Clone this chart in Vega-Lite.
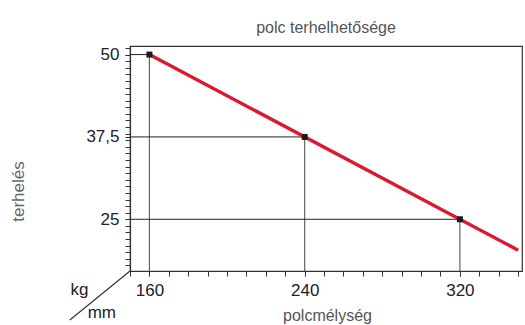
{
  "$schema": "https://vega.github.io/schema/vega-lite/v6.json",
  "width": 392,
  "height": 225,
  "autosize": {"type": "none"},
  "padding": {"left": 130, "top": 46, "right": 3, "bottom": 54},
  "background": "white",
  "config": {
    "font": "Liberation Sans",
    "view": {"stroke": "#333333", "strokeWidth": 1.2},
    "axis": {"grid": false},
    "locale": {"number": {"decimal": ",", "thousands": " ", "grouping": [3], "currency": ["", ""]}}
  },
  "title": {
    "text": "polc terhelhetősége",
    "fontSize": 16,
    "font": "Liberation Sans",
    "fontWeight": "normal",
    "color": "#555555",
    "anchor": "middle",
    "frame": "group",
    "baseline": "alphabetic",
    "offset": -3
  },
  "resolve": {"axis": {"x": "independent", "y": "independent"}},
  "datasets": {
    "points": [
      {"depth": 160, "load": 50},
      {"depth": 240, "load": 37.5},
      {"depth": 320, "load": 25}
    ],
    "line": [
      {"depth": 160, "load": 50},
      {"depth": 350, "load": 20.31}
    ]
  },
  "layer": [
    {
      "data": {"name": "points"},
      "mark": {"type": "rule", "color": "#666666", "strokeWidth": 1.2},
      "encoding": {
        "x": {"field": "depth", "type": "quantitative",
          "scale": {"domain": [150, 352], "nice": false, "zero": false},
          "axis": {
            "orient": "bottom",
            "values": [160, 240, 320],
            "format": "d",
            "labelOverlap": false,
            "labelFontSize": 17,
            "labelColor": "#222222",
            "labelPadding": 6,
            "tickSize": 5,
            "tickColor": "#333333",
            "domainColor": "#333333",
            "domainWidth": 1.2,
            "title": "polcmélység",
            "titleFontSize": 16,
            "titleFontWeight": "normal",
            "titleColor": "#555555",
            "titleX": 197,
            "titleY": 44,
            "titleBaseline": "middle",
            "titleAlign": "center"
          }
        },
        "y": {"field": "load", "type": "quantitative",
          "scale": {"domain": [17.15, 51.3], "nice": false, "zero": false},
          "axis": {
            "orient": "left",
            "values": [25, 37.5, 50],
            "format": ".1~f",
            "labelOverlap": false,
            "labelFontSize": 17,
            "labelColor": "#222222",
            "labelPadding": 6,
            "tickSize": 5,
            "tickColor": "#333333",
            "domainColor": "#333333",
            "domainWidth": 1.2,
            "title": "terhelés",
            "titleFontSize": 17,
            "titleFontWeight": "normal",
            "titleColor": "#666666",
            "titleX": -112,
            "titleY": 145,
            "titleAngle": -90,
            "titleBaseline": "middle",
            "titleAlign": "center"
          }
        },
        "y2": {"datum": 17.15}
      }
    },
    {
      "data": {"name": "points"},
      "mark": {"type": "rule", "color": "#222222", "strokeWidth": 1},
      "encoding": {
        "x": {"field": "depth", "type": "quantitative",
          "axis": {
            "orient": "bottom",
            "values": [150,160,170,180,190,200,210,220,230,240,250,260,270,280,290,300,310,320,330,340,350],
            "labels": false,
            "domain": false,
            "tickSize": 5,
            "tickColor": "#333333",
            "title": null
          }
        },
        "x2": {"datum": 150},
        "y": {"field": "load", "type": "quantitative",
          "axis": {
            "orient": "left",
            "values": [18,19,20,21,22,23,24,25,26,27,28,29,30,31,32,33,34,35,36,37,38,39,40,41,42,43,44,45,46,47,48,49,50,51],
            "labels": false,
            "domain": false,
            "tickSize": 5,
            "tickColor": "#333333",
            "title": null
          }
        }
      }
    },
    {
      "data": {"name": "line"},
      "mark": {"type": "line", "color": "#d91a30", "strokeWidth": 3.5},
      "encoding": {
        "x": {"field": "depth", "type": "quantitative", "axis": null},
        "y": {"field": "load", "type": "quantitative", "axis": null}
      }
    },
    {
      "data": {"name": "points"},
      "mark": {"type": "square", "color": "#1a1a1a", "opacity": 1, "size": 36, "filled": true},
      "encoding": {
        "x": {"field": "depth", "type": "quantitative", "axis": null},
        "y": {"field": "load", "type": "quantitative", "axis": null}
      }
    },
    {
      "data": {"values": [{"a": 1}]},
      "mark": {"type": "rule", "color": "#333333", "strokeWidth": 1.2},
      "encoding": {
        "x": {"datum": 150, "type": "quantitative", "axis": null},
        "y": {"datum": 17.15, "type": "quantitative", "axis": null},
        "x2": {"datum": 119},
        "y2": {"datum": 9.7}
      }
    },
    {
      "data": {"values": [{"unit": "kg", "ux": 124, "uy": 14.3}, {"unit": "mm", "ux": 135.5, "uy": 10.8}]},
      "mark": {"type": "text", "fontSize": 17, "color": "#222222", "baseline": "middle", "align": "center"},
      "encoding": {
        "x": {"field": "ux", "type": "quantitative", "axis": null},
        "y": {"field": "uy", "type": "quantitative", "axis": null},
        "text": {"field": "unit"}
      }
    }
  ]
}
